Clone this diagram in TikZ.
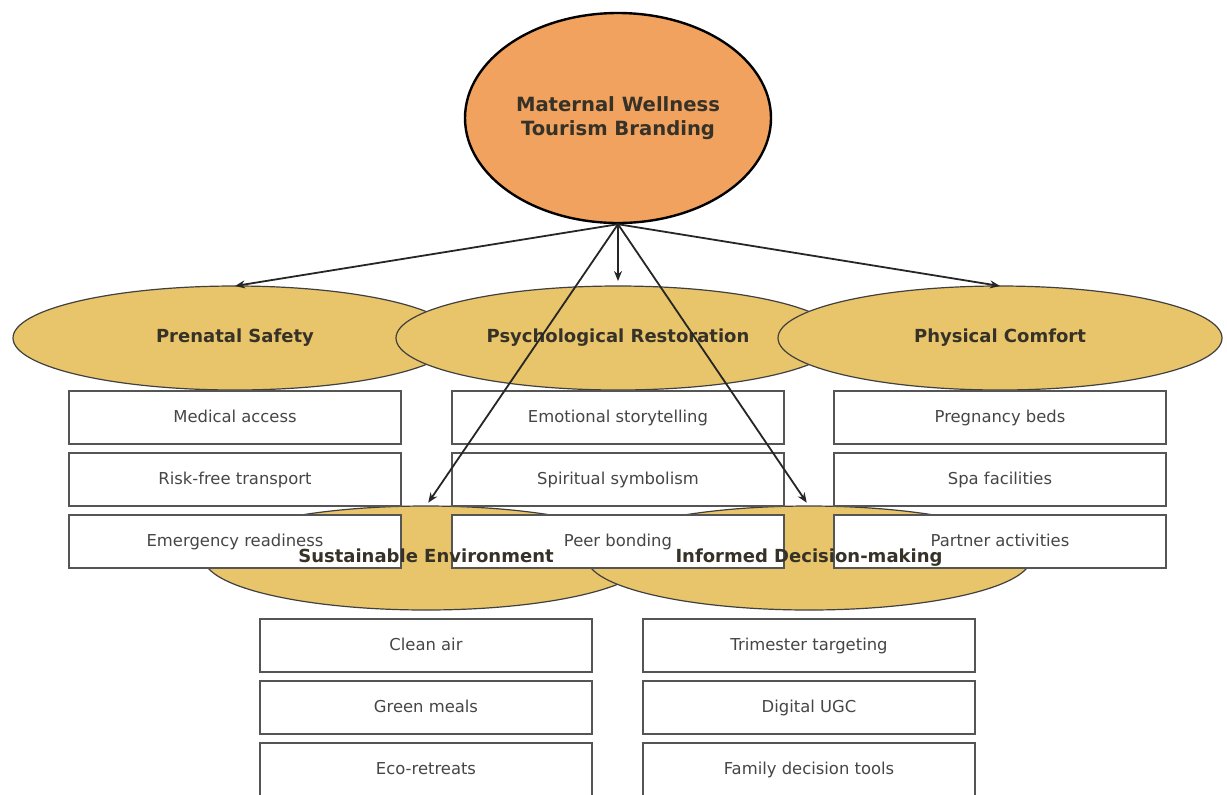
\documentclass[tikz,border=0pt]{standalone}
\usepackage{fontspec}
\setmainfont{DejaVu Sans}
\usepackage{tikz}
\usetikzlibrary{positioning, shapes.geometric, arrows.meta}
\definecolor{rootColor}{RGB}{241,162,94}
\definecolor{catColor}{RGB}{232,196,106}
\definecolor{boxLine}{RGB}{85,85,85}
\definecolor{boxText}{RGB}{70,70,70}
\definecolor{labelText}{RGB}{55,50,40}
\tikzset{
    rootnode/.style={
        ellipse,
        draw=black,
        line width=1.2pt,
        fill=rootColor,
        minimum width=153pt,
        minimum height=105pt,
        inner sep=0pt,
        align=center,
        font=\bfseries\fontsize{9.8}{12}\selectfont,
        text=labelText
    },
    catnode/.style={
        ellipse,
        draw=black!75,
        line width=0.6pt,
        fill=catColor,
        minimum width=222pt,
        minimum height=52pt,
        inner sep=0pt,
        outer sep=0pt
    },
    catlabel/.style={
        font=\bfseries\fontsize{9}{11}\selectfont,
        text=labelText,
        text height=6.8pt,
        text depth=1.9pt
    },
    itembox/.style={
        rectangle,
        draw=boxLine,
        line width=0.75pt,
        fill=white,
        minimum width=166pt,
        minimum height=26.5pt,
        outer sep=0pt,
        font=\fontsize{8.2}{10}\selectfont,
        text=boxText,
        text height=6.2pt,
        text depth=1.7pt
    },
    ptr/.style={
        -{Stealth[length=5pt, width=4pt]},
        line width=0.9pt,
        draw=black!85
    }
}

\begin{document}
\begin{tikzpicture}[x=0.5pt, y=-0.5pt]
    \useasboundingbox (0,0) rectangle (1227,794);

    \node[rootnode] (root) at (618,118) {Maternal Wellness\\Tourism Branding};

    % first ring of ellipses
    \node[catnode] (ps) at (235,338) {};
    \node[catnode] (pr) at (618,338) {};
    \node[catnode] (pc) at (1000,338) {};
    % second ring
    \node[catnode] (se) at (426,558) {};
    \node[catnode] (id) at (809,558) {};

    \node[itembox, below=0.5pt of ps] (ps1) {Medical access};
    \node[itembox, below=4.5pt of ps1] (ps2) {Risk-free transport};
    \node[itembox, below=4.5pt of ps2] (ps3) {Emergency readiness};

    \node[itembox, below=0.5pt of pr] (pr1) {Emotional storytelling};
    \node[itembox, below=4.5pt of pr1] (pr2) {Spiritual symbolism};
    \node[itembox, below=4.5pt of pr2] (pr3) {Peer bonding};

    \node[itembox, below=0.5pt of pc] (pc1) {Pregnancy beds};
    \node[itembox, below=4.5pt of pc1] (pc2) {Spa facilities};
    \node[itembox, below=4.5pt of pc2] (pc3) {Partner activities};

    \node[itembox, below=4.5pt of se] (se1) {Clean air};
    \node[itembox, below=4.5pt of se1] (se2) {Green meals};
    \node[itembox, below=4.5pt of se2] (se3) {Eco-retreats};

    \node[itembox, below=4.5pt of id] (id1) {Trimester targeting};
    \node[itembox, below=4.5pt of id1] (id2) {Digital UGC};
    \node[itembox, below=4.5pt of id2] (id3) {Family decision tools};

    % labels on top of the boxes
    \node[catlabel] (psl) at (ps) {Prenatal Safety};
    \node[catlabel] (prl) at (pr) {Psychological Restoration};
    \node[catlabel] (pcl) at (pc) {Physical Comfort};
    \node[catlabel] (sel) at (se) {Sustainable Environment};
    \node[catlabel] (idl) at (id) {Informed Decision-making};

    \draw[ptr] (root.south) -- (ps.north);
    \draw[ptr, shorten >=2.5pt] (root.south) -- (pr.north);
    \draw[ptr] (root.south) -- (pc.north);
    \draw[ptr, shorten >=2pt] (root.south) -- (se.north);
    \draw[ptr, shorten >=2pt] (root.south) -- (id.north);
\end{tikzpicture}
\end{document}
